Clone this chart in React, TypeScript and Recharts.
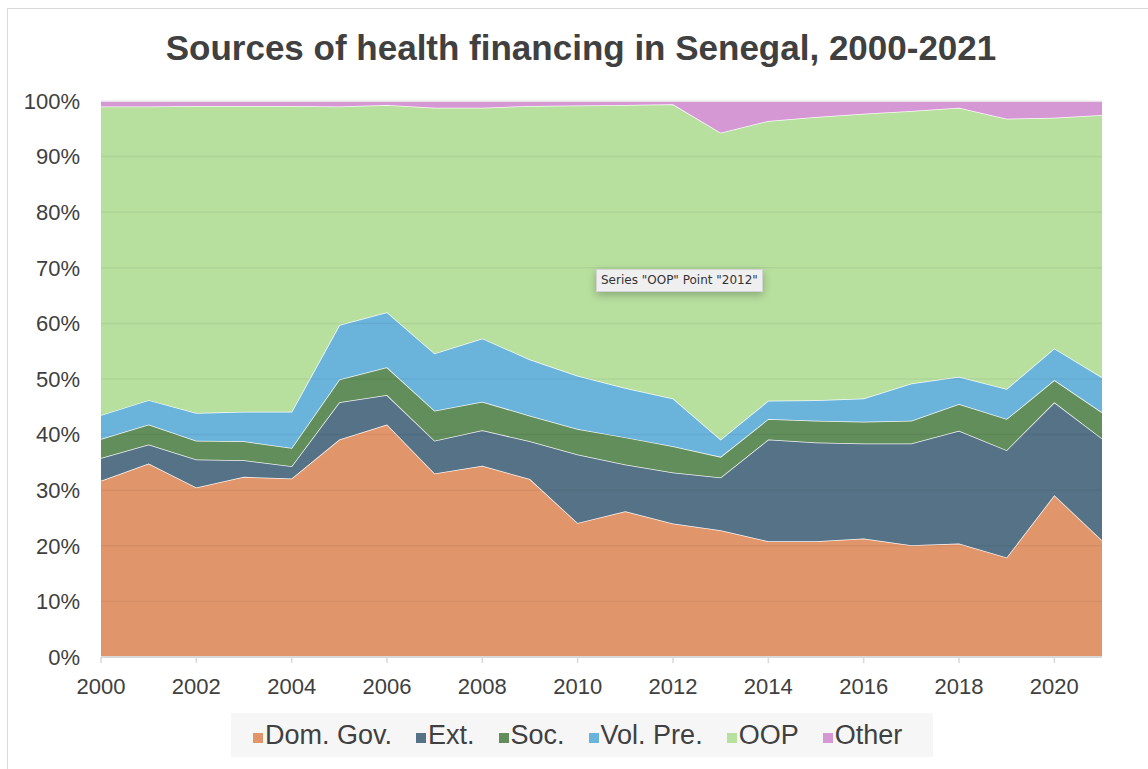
import React from "react";
import { AreaChart, Area, XAxis, YAxis, ReferenceLine } from "recharts";

const years = [2000, 2001, 2002, 2003, 2004, 2005, 2006, 2007, 2008, 2009, 2010, 2011, 2012, 2013, 2014, 2015, 2016, 2017, 2018, 2019, 2020, 2021];
const domGov = [31.7, 34.8, 30.5, 32.4, 32.1, 39.1, 41.8, 33.0, 34.4, 32.0, 24.1, 26.2, 24.0, 22.8, 20.8, 20.8, 21.3, 20.1, 20.4, 17.9, 29.1, 21.0];
const ext = [4.1, 3.4, 5.0, 3.0, 2.2, 6.7, 5.3, 5.9, 6.4, 6.8, 12.3, 8.4, 9.2, 9.5, 18.3, 17.8, 17.1, 18.3, 20.3, 19.3, 16.7, 18.3];
const soc = [3.4, 3.6, 3.4, 3.4, 3.3, 4.1, 5.0, 5.4, 5.1, 4.6, 4.6, 4.9, 4.7, 3.7, 3.7, 3.9, 3.9, 4.1, 4.8, 5.6, 4.0, 4.7];
const volPre = [4.3, 4.4, 5.0, 5.3, 6.5, 9.8, 9.9, 10.3, 11.4, 10.1, 9.6, 8.9, 8.6, 3.1, 3.3, 3.7, 4.2, 6.7, 4.9, 5.4, 5.7, 6.3];
const oop = [55.5, 52.8, 55.2, 55.0, 55.0, 39.3, 37.3, 44.2, 41.5, 45.6, 48.6, 50.9, 52.9, 55.2, 50.3, 50.9, 51.2, 49.0, 48.4, 48.6, 41.5, 47.2];
const other = [1.0, 1.0, 0.9, 0.9, 0.9, 1.0, 0.7, 1.2, 1.2, 0.9, 0.8, 0.7, 0.6, 5.7, 3.6, 2.9, 2.3, 1.8, 1.2, 3.2, 3.0, 2.5];

const xTicks = [2000, 2002, 2004, 2006, 2008, 2010, 2012, 2014, 2016, 2018, 2020];
const yTicks = [0, 10, 20, 30, 40, 50, 60, 70, 80, 90, 100];
const gridLines = [10, 20, 30, 40, 50, 60, 70, 80, 90];

const seriesDefs = [
  { key: "domGov", name: "Dom. Gov.", color: "#E1956B" },
  { key: "ext", name: "Ext.", color: "#557286" },
  { key: "soc", name: "Soc.", color: "#618E5B" },
  { key: "volPre", name: "Vol. Pre.", color: "#6AB4DC" },
  { key: "oop", name: "OOP", color: "#B7DF9E" },
  { key: "other", name: "Other", color: "#D698D4" },
];

const data = years.map((y, i) => ({
  year: y,
  domGov: domGov[i],
  ext: ext[i],
  soc: soc[i],
  volPre: volPre[i],
  oop: oop[i],
  other: other[i],
}));

const FONT = "'Liberation Sans', Arial, Helvetica, sans-serif";
const TEXT = "#404040";

export default function App() {
  return (
    <div
      style={{
        position: "absolute",
        left: 0,
        top: 0,
        width: 1148,
        height: 769,
        background: "#fff",
        overflow: "hidden",
        fontFamily: FONT,
      }}
    >
      <div
        style={{
          position: "absolute",
          left: 7,
          top: 8,
          width: 1300,
          height: 900,
          border: "1px solid #d9d9d9",
        }}
      />
      <div
        style={{
          position: "absolute",
          left: 0,
          top: 28,
          width: 1162,
          textAlign: "center",
          fontSize: 35,
          fontWeight: "bold",
          color: TEXT,
          lineHeight: "40px",
          whiteSpace: "nowrap",
        }}
      >
        Sources of health financing in Senegal, 2000-2021
      </div>
      <div style={{ position: "absolute", left: 0, top: 0 }}>
        <AreaChart
          width={1148}
          height={769}
          data={data}
          margin={{ top: 101, right: 46, bottom: 0, left: 0 }}
        >
          <XAxis
            dataKey="year"
            type="number"
            domain={[2000, 2021]}
            ticks={xTicks}
            interval={0}
            height={112}
            axisLine={{ stroke: "#d9d9d9", strokeWidth: 2 }}
            tickLine={{ stroke: "#d9d9d9", strokeWidth: 1.5 }}
            tickSize={6}
            tickMargin={15}
            tick={{ fill: TEXT, fontSize: 22, fontFamily: FONT }}
          />
          <YAxis
            type="number"
            domain={[0, 100]}
            ticks={yTicks}
            interval={0}
            width={101}
            axisLine={false}
            tickLine={false}
            tickSize={0}
            tickMargin={21}
            tickFormatter={(v: number) => `${v}%`}
            tick={{ fill: TEXT, fontSize: 22, fontFamily: FONT }}
          />
          {seriesDefs.map((s) => (
            <Area
              key={s.key}
              type="linear"
              dataKey={s.key}
              name={s.name}
              stackId="1"
              stroke="#ffffff"
              strokeOpacity={0.9}
              strokeWidth={1.5}
              fill={s.color}
              fillOpacity={1}
              isAnimationActive={false}
            />
          ))}
          {gridLines.map((g) => (
            <ReferenceLine key={g} y={g} stroke="#000000" strokeOpacity={0.05} strokeWidth={1.5} />
          ))}
          <ReferenceLine y={100} stroke="#e6e6e6" strokeWidth={1} />
        </AreaChart>
      </div>
      <div
        style={{
          position: "absolute",
          left: 231,
          top: 713,
          width: 702,
          height: 44,
          background: "#f6f6f6",
          display: "flex",
          alignItems: "center",
          justifyContent: "flex-start",
          boxSizing: "border-box",
          paddingLeft: 22,
          fontFamily: FONT,
          fontSize: 27,
          color: TEXT,
          whiteSpace: "nowrap",
        }}
      >
        {seriesDefs.map((s, i) => (
          <div key={s.key} style={{ display: "flex", alignItems: "center", marginLeft: i === 0 ? 0 : 24 }}>
            <span style={{ display: "inline-block", width: 10, height: 10, background: s.color, marginRight: 2, marginTop: 5 }} />
            <span>{s.name}</span>
          </div>
        ))}
      </div>
      <div
        style={{
          position: "absolute",
          left: 596,
          top: 269,
          height: 21,
          padding: "0 4px",
          background: "#efefef",
          border: "1px solid #d4d4d4",
          boxShadow: "0 3px 8px rgba(0,0,0,0.25)",
          fontFamily: "'DejaVu Sans', 'Liberation Sans', sans-serif",
          fontSize: 12,
          color: "#333",
          lineHeight: "21px",
          whiteSpace: "nowrap",
        }}
      >
        Series "OOP" Point "2012"
      </div>
    </div>
  );
}
